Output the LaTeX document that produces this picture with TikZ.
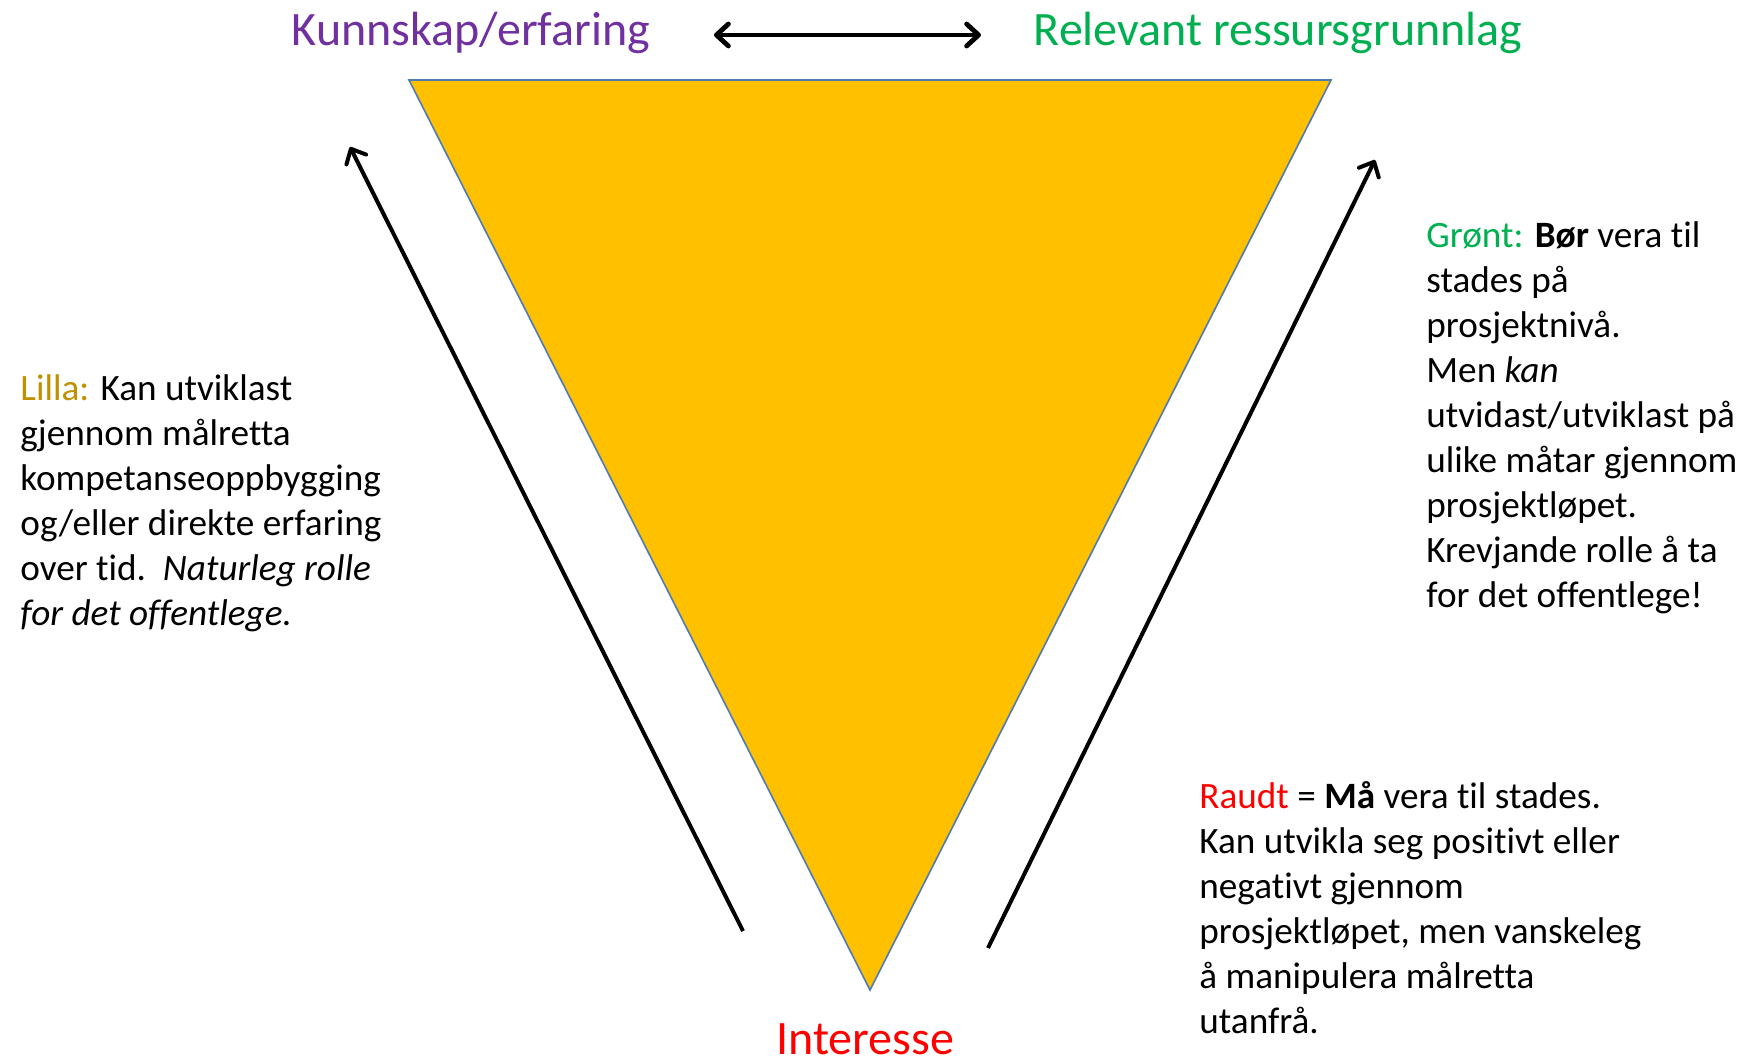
\documentclass[tikz,border=0pt]{standalone}
\usepackage{fontspec}
\setmainfont{Carlito}[Ligatures=NoCommon]
\usepackage{xcolor}
\usepackage{tikz}
\usetikzlibrary{arrows.meta}

\definecolor{lilla}{HTML}{7030A0}
\definecolor{gront}{HTML}{00B050}
\definecolor{raudt}{HTML}{FF0000}
\definecolor{gull}{HTML}{BF9000}
\definecolor{trifill}{HTML}{FFC000}
\definecolor{triline}{HTML}{4F7BB5}

\begin{document}
\begin{tikzpicture}[x=0.5pt, y=-0.5pt,
        title/.style={font=\fontsize{24}{29}\selectfont, anchor=base, inner sep=0pt},
        note/.style={font=\fontsize{18.6}{22.5}\selectfont, align=left, anchor=north west, inner sep=0pt},
        arrow/.style={-{Straight Barb[length=6pt,width=11pt,round]}, line width=2pt},
        twoway/.style={{Straight Barb[length=6pt,width=11pt,round]}-{Straight Barb[length=6pt,width=11pt,round]}, line width=2.4pt}
    ]
        \useasboundingbox (0,0) rectangle (1744,1063);

        % triangle
        \coordinate (tl) at (409,80);
        \coordinate (tr) at (1331,80);
        \coordinate (tb) at (870,990);
        \draw[triline, fill=trifill, line width=0.8pt] (tl) -- (tr) -- (tb) -- cycle;

        \node[title, text=lilla] (kunnskap) at (471,46) {Kunnskap/erfaring};
        \node[title, text=gront] (ressurs) at (1278,46) {Relevant ressursgrunnlag};
        \node[title, text=raudt] (interesse) at (865,1054) {Interesse};

        \coordinate (dl) at (714,35);
        \coordinate (dr) at (981,35);
        \draw[twoway] (dl) -- (dr);

        \coordinate (la) at (743,931);
        \coordinate (lb) at (350,147);
        \draw[arrow] (la) -- (lb);

        \coordinate (ra) at (988,948);
        \coordinate (rb) at (1375,160);
        \draw[arrow] (ra) -- (rb);

        \node[note] (lillatext) at (20,374) {\textcolor{gull}{Lilla:} Kan utviklast\\gjennom målretta\\kompetanseoppbygging\\og/eller direkte erfaring\\over tid.\ \ \textit{Naturleg rolle}\\\textit{for det offentlege.}};

        \node[note] (grontext) at (1426,221) {\textcolor{gront}{Grønt:} \textbf{Bør} vera til\\stades på\\prosjektnivå.\\Men \textit{kan}\\utvidast/utviklast på\\ulike måtar gjennom\\prosjektløpet.\\Krevjande rolle å ta\\for det offentlege!};

        \node[note] (raudtext) at (1199,781) {\textcolor{raudt}{Raudt} = \textbf{Må} vera til stades.\\Kan utvikla seg positivt eller\\negativt gjennom\\prosjektløpet, men vanskeleg\\å manipulera målretta\\utanfrå.};
    \end{tikzpicture}
\end{document}
